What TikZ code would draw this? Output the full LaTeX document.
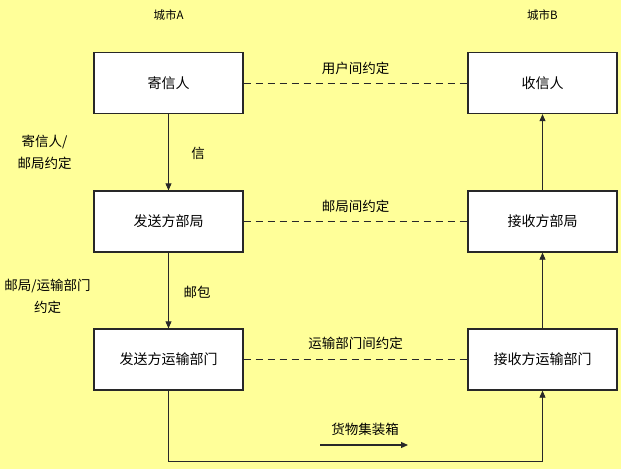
\documentclass[tikz,border=0pt]{standalone}
\usepackage{fontspec}
\setmainfont{Noto Sans CJK SC}
\usetikzlibrary{arrows.meta}
\definecolor{bgyellow}{RGB}{255,255,153}
\definecolor{lineg}{RGB}{40,40,40}
\tikzset{
  box/.style={draw=lineg, line width=1.3pt, fill=white, minimum width=149pt, minimum height=61pt, inner sep=0pt, font=\fontsize{14}{16}\selectfont},
  lbl/.style={font=\fontsize{13.5}{22}\selectfont, inner sep=0pt, align=center},
  city/.style={font=\fontsize{11.5}{13}\selectfont, inner sep=0pt},
  flow/.style={draw=lineg, line width=0.8pt, -{Triangle[length=7pt,width=6pt]}},
  plain/.style={draw=lineg, line width=0.8pt},
  agree/.style={draw=lineg, line width=1pt, dash pattern=on 7pt off 5pt}
}
\begin{document}
\begin{tikzpicture}[x=1pt,y=1pt]
\fill[bgyellow] (0,0) rectangle (621,-469);
\useasboundingbox (0,0) rectangle (621,-469);
\node[city] (ca) at (168.5,-15) {城市A};
\node[city] (cb) at (542.5,-15) {城市B};
\node[box] (L1) at (168.5,-83) {寄信人};
\node[box] (L2) at (168.5,-221.5) {发送方部局};
\node[box] (L3) at (168.5,-359.5) {发送方运输部门};
\node[box] (R1) at (542.5,-83) {收信人};
\node[box] (R2) at (542.5,-221.5) {接收方部局};
\node[box] (R3) at (542.5,-359.5) {接收方运输部门};
\draw[agree] (L1) -- (R1);
\draw[agree] (L2) -- (R2);
\draw[agree] (L3) -- (R3);
\node[lbl] (t1) at (355.5,-68) {用户间约定};
\node[lbl] (t2) at (355.5,-206) {邮局间约定};
\node[lbl] (t3) at (355.5,-343) {运输部门间约定};
\draw[flow] (L1) -- (L2);
\draw[flow] (L2) -- (L3);
\draw[flow] (R3) -- (R2);
\draw[flow] (R2) -- (R1);
\coordinate (bl) at (168.5,-461);
\coordinate (br) at (542.5,-461);
\draw[flow] (L3.south) -- (bl) -- (br) -- (R3.south);
\node[lbl] (x1) at (198,-153) {信};
\node[lbl] (x2) at (197,-292) {邮包};
\node[lbl] (s1) at (44.5,-152.5) {寄信人/\\邮局约定};
\node[lbl] (s2) at (47.5,-296.5) {邮局/运输部门\\约定};
\node[lbl] (g) at (365,-429) {货物集装箱};
\coordinate (ga) at (320,-445);
\coordinate (gb) at (408,-445);
\draw[flow, line width=1.2pt] (ga) -- (gb);
\end{tikzpicture}
\end{document}
